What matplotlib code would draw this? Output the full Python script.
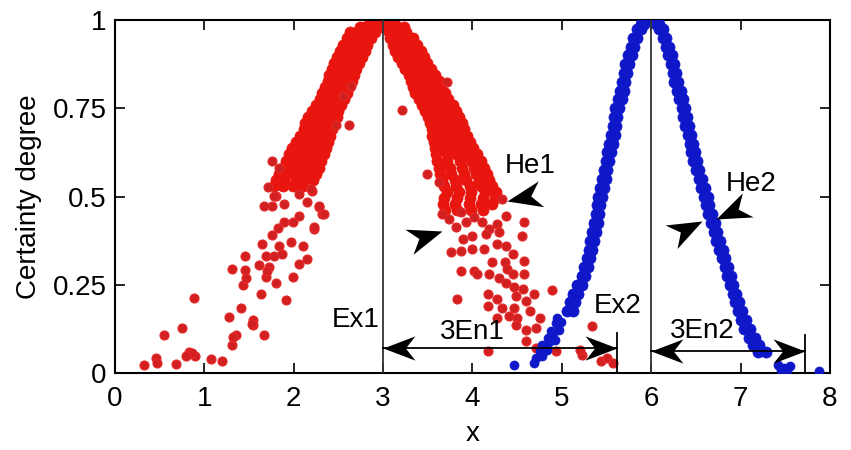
import matplotlib
matplotlib.use("Agg")
import matplotlib.pyplot as plt
from matplotlib.markers import MarkerStyle
from matplotlib.path import Path
from matplotlib.transforms import Affine2D

plt.rcParams['font.family'] = ['Liberation Sans', 'DejaVu Sans']

# ---------------- data ----------------
x_ticks = [0, 1, 2, 3, 4, 5, 6, 7, 8]
y_ticks = [0, 0.25, 0.5, 0.75, 1]
y_tick_labels = ['0', '0.25', '0.5', '0.75', '1']

Ex1, En1_end = 3.0, 5.62
Ex2, En2_end = 6.0, 7.72

# red cloud: dense left branch, rows of (certainty, [x ...])
red_left_rows = [
    (0.995, [2.85, 2.92, 2.98, 3.03]),
    (0.980, [2.74, 2.80, 2.87, 2.93, 3.00]),
    (0.965, [2.63, 2.71, 2.77, 2.85, 2.91]),
    (0.948, [2.60, 2.65, 2.73, 2.79, 2.86]),
    (0.930, [2.55, 2.62, 2.68, 2.76, 2.82]),
    (0.912, [2.52, 2.58, 2.66, 2.72, 2.80]),
    (0.895, [2.48, 2.55, 2.61, 2.69, 2.76]),
    (0.877, [2.45, 2.51, 2.59, 2.65, 2.73]),
    (0.860, [2.43, 2.49, 2.57, 2.63, 2.70]),
    (0.843, [2.40, 2.46, 2.54, 2.60, 2.68]),
    (0.826, [2.38, 2.45, 2.51, 2.59, 2.65]),
    (0.809, [2.35, 2.41, 2.49, 2.55, 2.62]),
    (0.792, [2.32, 2.39, 2.45, 2.53, 2.60]),
    (0.775, [2.29, 2.35, 2.43, 2.49, 2.56]),
    (0.758, [2.25, 2.31, 2.39, 2.45, 2.53]),
    (0.741, [2.21, 2.28, 2.34, 2.43, 2.50]),
    (0.724, [2.16, 2.22, 2.31, 2.38, 2.48]),
    (0.707, [2.13, 2.21, 2.27, 2.37, 2.45]),
    (0.690, [2.11, 2.17, 2.27, 2.33, 2.43]),
    (0.672, [2.07, 2.15, 2.23, 2.33, 2.41]),
    (0.655, [2.03, 2.09, 2.21, 2.28, 2.38]),
    (0.638, [1.98, 2.07, 2.15, 2.27, 2.36]),
    (0.620, [1.95, 2.02, 2.13, 2.22, 2.34]),
    (0.600, [1.91, 2.00, 2.09, 2.21, 2.31]),
    (0.582, [1.88, 1.95, 2.07, 2.16, 2.28]),
    (0.565, [1.84, 1.93, 2.03, 2.15, 2.25]),
    (0.548, [1.80, 1.89, 2.02, 2.10, 2.22]),
    (0.530, [1.78, 1.88, 1.99, 2.10]),
]

# red cloud: dense right branch
red_right_rows = [
    (0.995, [3.00, 3.06, 3.12]),
    (0.980, [3.03, 3.10, 3.16, 3.23]),
    (0.965, [3.07, 3.12, 3.20, 3.26]),
    (0.948, [3.08, 3.15, 3.21, 3.29, 3.34]),
    (0.930, [3.11, 3.17, 3.25, 3.31, 3.38]),
    (0.912, [3.13, 3.21, 3.27, 3.35, 3.42]),
    (0.895, [3.17, 3.23, 3.31, 3.37, 3.46]),
    (0.877, [3.21, 3.29, 3.35, 3.43, 3.49]),
    (0.860, [3.25, 3.31, 3.39, 3.45, 3.54]),
    (0.843, [3.29, 3.37, 3.43, 3.51, 3.58]),
    (0.826, [3.31, 3.38, 3.46, 3.52, 3.62]),
    (0.809, [3.34, 3.40, 3.48, 3.57, 3.65]),
    (0.792, [3.36, 3.44, 3.51, 3.59, 3.69]),
    (0.775, [3.40, 3.47, 3.56, 3.64, 3.73]),
    (0.758, [3.43, 3.52, 3.58, 3.68, 3.78]),
    (0.741, [3.47, 3.54, 3.63, 3.71, 3.82]),
    (0.724, [3.50, 3.59, 3.66, 3.76, 3.85]),
    (0.707, [3.52, 3.60, 3.70, 3.78, 3.88]),
    (0.690, [3.55, 3.62, 3.71, 3.81, 3.91]),
    (0.672, [3.55, 3.65, 3.74, 3.84, 3.94]),
    (0.655, [3.57, 3.66, 3.77, 3.87, 3.97]),
    (0.638, [3.58, 3.68, 3.79, 3.91, 4.01]),
    (0.620, [3.59, 3.71, 3.82, 3.94, 4.05]),
    (0.600, [3.60, 3.72, 3.86, 3.98, 4.10]),
    (0.582, [3.62, 3.75, 3.88, 4.02, 4.13]),
    (0.565, [3.64, 3.76, 3.91, 4.04, 4.16]),
    (0.548, [3.66, 3.80, 3.93, 4.07, 4.18]),
    (0.530, [3.68, 3.82, 3.97, 4.10, 4.22]),
    (0.512, [3.71, 3.85, 3.98, 4.14, 4.26]),
    (0.495, [3.68, 3.83, 3.97, 4.12, 4.25]),
    (0.478, [3.67, 3.80, 3.96, 4.10, 4.22]),
    (0.462, [3.69, 3.83, 3.98, 4.12]),
]

# red cloud: sparse drops
red_sparse_x = [1.80, 1.76, 1.89, 2.06, 2.15, 2.28, 2.32, 2.21, 1.89, 1.99, 2.06, 2.23,
                1.76, 1.65, 1.84, 1.97, 2.10, 1.46, 1.61, 1.69, 1.78, 1.87, 2.06, 2.15,
                1.31, 1.46, 1.43, 1.69, 1.80, 1.99, 1.63, 1.91, 0.88, 1.41, 1.28, 1.54,
                1.54, 0.75, 0.55, 1.67, 1.35, 1.31, 0.83, 0.90, 1.07, 1.20, 0.46, 0.47,
                0.32, 0.68, 0.86, 0.80, 1.32, 1.47, 1.72, 1.70, 1.82, 1.53,
                2.62, 2.47, 2.64, 2.55, 1.76, 1.84, 1.71, 1.78, 1.67, 2.19, 2.28, 2.34, 2.23,
                3.49, 3.71, 3.21, 4.33, 3.62,
                3.66, 3.74, 3.87, 3.82, 3.93, 4.02, 4.11, 4.19, 4.27, 4.38, 4.58, 4.55,
                4.30, 4.15, 4.00, 3.89, 3.76, 3.87, 4.00, 4.13, 4.27, 4.38, 4.45, 4.58,
                4.22, 4.36, 4.39, 3.87, 4.02, 4.05, 4.19, 4.30, 4.38, 4.47, 4.58, 4.45,
                4.56, 4.69, 4.89, 3.83, 4.17, 4.27, 4.49, 4.60, 4.17, 4.33, 4.47, 4.64,
                4.41, 4.50, 4.75, 4.27, 4.49, 4.60, 4.71, 5.34, 4.60, 4.71, 4.17, 4.94,
                5.23, 5.44, 5.51, 5.57, 5.20]
red_sparse_y = [0.502, 0.474, 0.479, 0.507, 0.484, 0.470, 0.451, 0.516, 0.427, 0.427, 0.446, 0.408,
                0.390, 0.366, 0.361, 0.371, 0.361, 0.333, 0.305, 0.333, 0.333, 0.338, 0.310, 0.324,
                0.296, 0.291, 0.249, 0.272, 0.254, 0.272, 0.223, 0.206, 0.213, 0.183, 0.160, 0.150,
                0.136, 0.129, 0.108, 0.108, 0.108, 0.080, 0.061, 0.047, 0.039, 0.033, 0.042, 0.028,
                0.023, 0.025, 0.056, 0.047, 0.103, 0.268, 0.301, 0.290, 0.410, 0.140,
                0.704, 0.704, 0.812, 0.784, 0.601, 0.582, 0.526, 0.502, 0.474, 0.521, 0.474, 0.451, 0.413,
                0.563, 0.825, 0.746, 0.493, 0.540,
                0.451, 0.437, 0.456, 0.414, 0.428, 0.442, 0.428, 0.408, 0.423, 0.445, 0.428, 0.389,
                0.400, 0.394, 0.389, 0.380, 0.344, 0.346, 0.352, 0.352, 0.366, 0.361, 0.338, 0.318,
                0.315, 0.315, 0.296, 0.290, 0.290, 0.282, 0.282, 0.268, 0.254, 0.245, 0.282, 0.282,
                0.239, 0.225, 0.234, 0.211, 0.225, 0.211, 0.217, 0.203, 0.189, 0.183, 0.183, 0.177,
                0.163, 0.155, 0.155, 0.155, 0.135, 0.121, 0.127, 0.132, 0.090, 0.070, 0.062, 0.062,
                0.051, 0.034, 0.042, 0.028, 0.065]

# blue cloud: left and right branches, rows of (certainty, [x ...])
blue_left_rows = [
    (1.000, [5.93, 5.97]), (0.990, [5.88, 5.92]), (0.975, [5.84, 5.88]),
    (0.950, [5.80, 5.84]), (0.925, [5.77, 5.81]), (0.900, [5.74, 5.78]),
    (0.875, [5.71, 5.75]), (0.850, [5.69, 5.73]), (0.825, [5.67, 5.71]),
    (0.800, [5.65, 5.69]), (0.775, [5.63, 5.67]), (0.750, [5.60, 5.64]),
    (0.725, [5.58, 5.62]), (0.700, [5.57, 5.61]), (0.675, [5.55, 5.59]),
    (0.650, [5.53, 5.57]), (0.625, [5.51, 5.55]), (0.600, [5.49, 5.53]),
    (0.575, [5.47, 5.51]), (0.550, [5.45, 5.49]), (0.525, [5.43, 5.47]),
    (0.500, [5.41, 5.45]), (0.475, [5.39, 5.43]), (0.450, [5.38, 5.42]),
    (0.425, [5.36, 5.40]), (0.400, [5.34, 5.38]), (0.375, [5.32, 5.36]),
    (0.350, [5.30, 5.34]), (0.325, [5.28, 5.32]), (0.300, [5.25, 5.29]),
    (0.275, [5.22, 5.26]), (0.250, [5.17, 5.23]), (0.225, [5.12, 5.18]),
    (0.200, [5.09, 5.15]), (0.175, [5.06, 5.12]),
]
blue_right_rows = [
    (1.000, [6.00, 6.04]), (0.990, [6.05, 6.09]), (0.975, [6.09, 6.13]),
    (0.950, [6.13, 6.17]), (0.925, [6.16, 6.20]), (0.900, [6.19, 6.23]),
    (0.875, [6.22, 6.26]), (0.850, [6.24, 6.28]), (0.825, [6.26, 6.30]),
    (0.800, [6.29, 6.33]), (0.775, [6.31, 6.35]), (0.750, [6.34, 6.38]),
    (0.725, [6.36, 6.40]), (0.700, [6.38, 6.42]), (0.675, [6.41, 6.45]),
    (0.650, [6.43, 6.47]), (0.625, [6.45, 6.49]), (0.600, [6.47, 6.51]),
    (0.575, [6.50, 6.54]), (0.550, [6.53, 6.57]), (0.525, [6.56, 6.60]),
    (0.500, [6.59, 6.63]), (0.475, [6.61, 6.65]), (0.450, [6.64, 6.68]),
    (0.425, [6.67, 6.71]), (0.400, [6.70, 6.74]), (0.375, [6.73, 6.77]),
    (0.350, [6.76, 6.80]), (0.325, [6.79, 6.83]), (0.300, [6.82, 6.86]),
    (0.275, [6.85, 6.89]), (0.250, [6.88, 6.92]), (0.225, [6.91, 6.95]),
    (0.200, [6.94, 6.98]), (0.175, [6.97, 7.02]), (0.150, [7.00, 7.06]),
    (0.125, [7.04, 7.10]), (0.100, [7.09, 7.16]), (0.080, [7.14, 7.21]),
    (0.060, [7.20, 7.28]),
]
blue_sparse_x = [4.94, 4.97, 4.88, 4.84, 4.92, 4.78, 4.75, 4.71, 4.78, 4.69, 4.83, 4.95,
                 4.99, 4.90, 4.86, 4.82, 4.47,
                 7.42, 7.48, 7.55, 7.45, 7.52, 7.88]
blue_sparse_y = [0.141, 0.121, 0.118, 0.099, 0.093, 0.079, 0.062, 0.042, 0.048, 0.028, 0.065, 0.155,
                 0.146, 0.113, 0.089, 0.066, 0.023,
                 0.022, 0.015, 0.020, 0.008, 0.010, 0.005]

# annotation labels
labels = ['Ex1', '3En1', 'Ex2', '3En2', 'He1', 'He2']
label_x = [2.96, 4.00, 5.62, 6.57, 4.65, 7.12]
label_y = [0.150, 0.115, 0.190, 0.118, 0.586, 0.535]
label_ha = ['right', 'center', 'center', 'center', 'center', 'center']

# He arrowheads: tip x, tip y, screen angle
he_tip_x = [3.66, 4.39, 6.57, 6.73]
he_tip_y = [0.403, 0.487, 0.431, 0.437]
he_angle = [18, -168, 27, -156]


def flatten(rows):
    xs, ys = [], []
    for yv, xl in rows:
        for xv in xl:
            xs.append(xv)
            ys.append(yv)
    return xs, ys


RED = '#e8160e'
RED_D = '#d21f1f'
BLUE = '#0e18c8'

fig = plt.figure(figsize=(8.51, 4.5), dpi=100)
ax = fig.add_axes([0.1351, 0.171, 0.8402, 0.7844])

rlx, rly = flatten(red_left_rows)
rrx, rry = flatten(red_right_rows)
ax.plot(rlx, rly, 'o', color=RED, ms=8, mec=RED, mew=0.5, zorder=2)
ax.plot(rrx, rry, 'o', color=RED, ms=8, mec=RED, mew=0.5, zorder=2)
ax.plot(red_sparse_x, red_sparse_y, 'o', color=RED_D, ms=6.5, mec='#e42a2a', mew=0.8, zorder=2)

blx, bly = flatten(blue_left_rows)
brx, bry = flatten(blue_right_rows)
ax.plot(blx, bly, 'o', color=BLUE, ms=8, mec=BLUE, mew=0.5, zorder=3)
ax.plot(brx, bry, 'o', color=BLUE, ms=8, mec=BLUE, mew=0.5, zorder=3)
ax.plot(blue_sparse_x, blue_sparse_y, 'o', color=BLUE, ms=6.5, mec=BLUE, mew=0.5, zorder=3)

# expectation lines
ax.plot([Ex1, Ex1], [0, 1], color='#333333', lw=1.3, zorder=4)
ax.plot([Ex2, Ex2], [0, 1], color='#333333', lw=1.3, zorder=4)

head_path = Path([(0, 0), (-1, 0.38), (-0.70, 0), (-1, -0.38), (0, 0)],
                 [Path.MOVETO, Path.LINETO, Path.LINETO, Path.LINETO, Path.CLOSEPOLY])


def head(x, y, angle, size):
    m = MarkerStyle(head_path, transform=Affine2D().rotate_deg(angle))
    ax.plot([x], [y], marker=m, markersize=size, color='black', mec='black',
            mew=0, linestyle='none', zorder=6, clip_on=False)


# 3En double arrows
for x0, x1, yy, bar in [(Ex1, En1_end, 0.070, 0.113), (Ex2, En2_end, 0.062, 0.107)]:
    ax.plot([x0, x1], [yy, yy], color='black', lw=1.3, zorder=5)
    head(x0, yy, 180, 46)
    head(x1, yy, 0, 46)
    ax.plot([x1, x1], [0, bar], color='black', lw=1.3, zorder=5)

for hx, hy, ha_ in zip(he_tip_x, he_tip_y, he_angle):
    head(hx, hy, ha_, 50)

for t, tx, ty, h in zip(labels, label_x, label_y, label_ha):
    ax.text(tx, ty, t, fontsize=20, ha=h, va='center', zorder=7)

ax.set_xlim(0, 8)
ax.set_ylim(0, 1)
ax.set_xticks(x_ticks)
ax.set_xticklabels([str(v) for v in x_ticks])
ax.set_yticks(y_ticks)
ax.set_yticklabels(y_tick_labels)
ax.tick_params(direction='in', top=True, right=True, length=7, width=1.2,
               labelsize=20)
ax.tick_params(axis='x', pad=9)
ax.tick_params(axis='y', pad=6)
for s in ax.spines.values():
    s.set_linewidth(1.5)

ax.set_xlabel('x', fontsize=20, labelpad=7)
ax.set_ylabel('Certainty degree', fontsize=20, labelpad=8)

fig.savefig('out.png', dpi=100)
